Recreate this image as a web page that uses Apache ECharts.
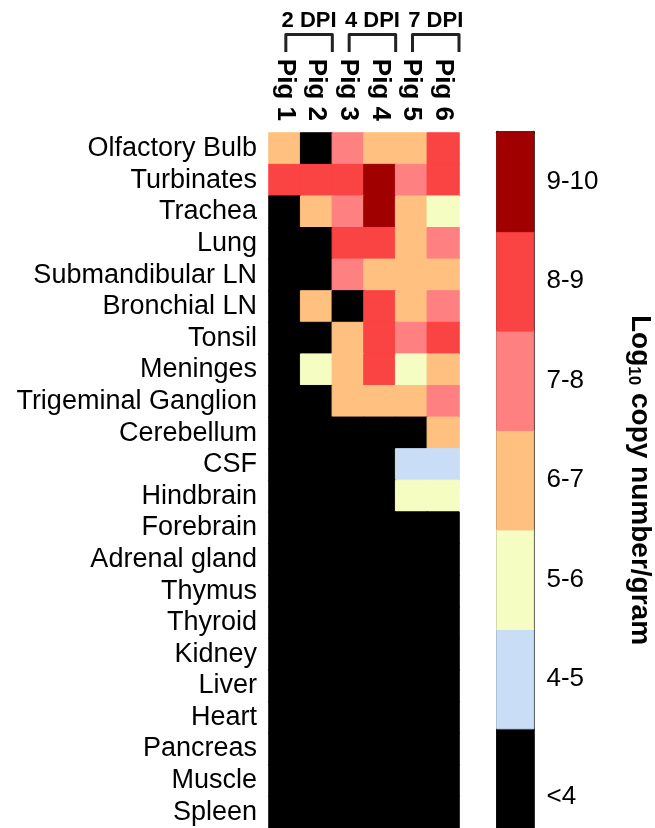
<!DOCTYPE html>
<html>
<head>
<meta charset="utf-8">
<script src="https://cdn.jsdelivr.net/npm/echarts@6/dist/echarts.min.js"></script>
<style>
html,body{margin:0;padding:0;background:#fff;}
#chart{width:655px;height:828px;}
</style>
</head>
<body>
<div id="chart"></div>
<script>
const pigs = ['Pig 1', 'Pig 2', 'Pig 3', 'Pig 4', 'Pig 5', 'Pig 6'];
const tissues = ['Olfactory Bulb', 'Turbinates', 'Trachea', 'Lung', 'Submandibular LN', 'Bronchial LN',
  'Tonsil', 'Meninges', 'Trigeminal Ganglion', 'Cerebellum', 'CSF', 'Hindbrain', 'Forebrain',
  'Adrenal gland', 'Thymus', 'Thyroid', 'Kidney', 'Liver', 'Heart', 'Pancreas', 'Muscle', 'Spleen'];
// level index: 0 = <4, 1 = 4-5, 2 = 5-6, 3 = 6-7, 4 = 7-8, 5 = 8-9, 6 = 9-10
const levels = [
  [3, 0, 4, 3, 3, 5],
  [5, 5, 5, 6, 4, 5],
  [0, 3, 4, 6, 3, 2],
  [0, 0, 5, 5, 3, 4],
  [0, 0, 4, 3, 3, 3],
  [0, 3, 0, 5, 3, 4],
  [0, 0, 3, 5, 4, 5],
  [0, 2, 3, 5, 2, 3],
  [0, 0, 3, 3, 3, 4],
  [0, 0, 0, 0, 0, 3],
  [0, 0, 0, 0, 1, 1],
  [0, 0, 0, 0, 2, 2],
  [0, 0, 0, 0, 0, 0],
  [0, 0, 0, 0, 0, 0],
  [0, 0, 0, 0, 0, 0],
  [0, 0, 0, 0, 0, 0],
  [0, 0, 0, 0, 0, 0],
  [0, 0, 0, 0, 0, 0],
  [0, 0, 0, 0, 0, 0],
  [0, 0, 0, 0, 0, 0],
  [0, 0, 0, 0, 0, 0],
  [0, 0, 0, 0, 0, 0]
];
const levelLabels = ['<4', '4-5', '5-6', '6-7', '7-8', '8-9', '9-10'];
const levelColors = ['#000000', '#C9DEF6', '#F5FDC3', '#FFC080', '#FF8080', '#FA4343', '#A00000'];
const dpiGroups = ['2 DPI', '4 DPI', '7 DPI'];

const FONT = '"Liberation Sans", Arial, Helvetica, sans-serif';

function cell(x, y, v) {
  const c = levelColors[v];
  return {value: [x, y, v], itemStyle: {color: c, borderColor: c, borderWidth: 1}};
}
const mainData = [];
levels.forEach((row, r) => row.forEach((v, c) => mainData.push(cell(c, r, v))));
const barData = levelLabels.map((l, i) => cell(0, i, i));

const chart = echarts.init(document.getElementById('chart'), null, {renderer: 'canvas'});

const option = {
  animation: false,
  backgroundColor: '#ffffff',
  grid: [
    {left: 269, top: 133, width: 190, height: 697},
    {left: 497, top: 132, width: 38, height: 697}
  ],
  xAxis: [
    {
      type: 'category', gridIndex: 0, position: 'top', data: pigs,
      axisLine: {show: false}, axisTick: {show: false}, splitLine: {show: false},
      axisLabel: {interval: 0, rotate: 90, margin: 12, fontFamily: FONT, fontSize: 26, fontWeight: 'bold', color: '#000'}
    },
    {
      type: 'category', gridIndex: 1, position: 'top', data: [''],
      axisLine: {show: true, lineStyle: {color: '#000', width: 2.5}},
      axisTick: {show: false}, axisLabel: {show: false}, splitLine: {show: false}
    }
  ],
  yAxis: [
    {
      type: 'category', gridIndex: 0, inverse: true, data: tissues,
      axisLine: {show: false}, axisTick: {show: false}, splitLine: {show: false},
      axisLabel: {interval: 0, margin: 12, fontFamily: FONT, fontSize: 27, color: '#000'}
    },
    {
      type: 'category', gridIndex: 1, position: 'right', data: levelLabels,
      axisLine: {show: true, lineStyle: {color: '#000', width: 2.5}},
      axisTick: {show: true, inside: true, alignWithLabel: true, length: 5, lineStyle: {color: '#000', width: 2}},
      splitLine: {show: false},
      axisLabel: {
        interval: 0, margin: 13, fontFamily: FONT, fontSize: 26, color: '#000',
        formatter: v => v === '<4' ? '{low|' + v + '}' : v,
        rich: {low: {fontFamily: FONT, fontSize: 26, color: '#000', padding: [38, 0, 0, 0]}}
      },
      name: '{a|Log}{s|10}{a| copy number/gram}',
      nameLocation: 'middle', nameRotate: -90, nameGap: 92,
      nameTextStyle: {
        fontFamily: FONT, fontSize: 28, fontWeight: 'bold', color: '#000',
        rich: {
          a: {fontFamily: FONT, fontSize: 28, fontWeight: 'bold', color: '#000'},
          s: {fontFamily: FONT, fontSize: 17, fontWeight: 'bold', color: '#000', padding: [12, 0, 0, 0]}
        }
      }
    },
    {
      type: 'category', gridIndex: 1, position: 'left', data: levelLabels,
      axisLine: {show: true, lineStyle: {color: '#000', width: 2.5}},
      axisTick: {show: true, inside: true, alignWithLabel: true, length: 5, lineStyle: {color: '#000', width: 2}},
      axisLabel: {show: false}, splitLine: {show: false}
    }
  ],
  series: [
    {
      type: 'heatmap', xAxisIndex: 0, yAxisIndex: 0, data: mainData,
      emphasis: {disabled: true}
    },
    {
      type: 'heatmap', xAxisIndex: 1, yAxisIndex: 1, data: barData,
      emphasis: {disabled: true}, z: 1
    }
  ]
};
chart.setOption(option);

// group brackets above the columns
const graphics = [];
dpiGroups.forEach((g, i) => {
  const c1 = chart.convertToPixel({xAxisIndex: 0}, pigs[2 * i]);
  const c2 = chart.convertToPixel({xAxisIndex: 0}, pigs[2 * i + 1]);
  const colW = c2 - c1;
  const xL = c1 + 1;
  const xR = c2 + colW / 2;
  graphics.push({
    type: 'polyline',
    shape: {points: [[xL, 52], [xL, 34.5], [xR, 34.5], [xR, 52]]},
    style: {stroke: '#222', lineWidth: 3, fill: null, lineJoin: 'round'}
  });
  graphics.push({
    type: 'text',
    x: (xL + xR) / 2, y: 21,
    style: {text: g, fontFamily: FONT, fontSize: 22, fontWeight: 'bold', fill: '#000', align: 'center', verticalAlign: 'middle'}
  });
});
chart.setOption({graphic: graphics});
</script>
</body>
</html>
